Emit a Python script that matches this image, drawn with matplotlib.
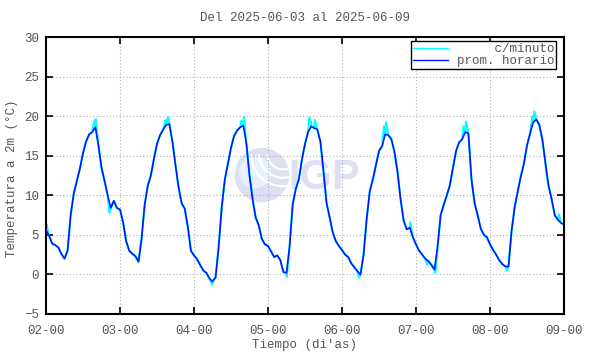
import matplotlib
matplotlib.use("Agg")
import matplotlib.pyplot as plt
from matplotlib.patches import Circle, Arc
import numpy as np

plt.rcParams['font.family'] = ['Liberation Mono', 'DejaVu Sans Mono']

# hourly means, hours from 2025-06-02 00:00
hourly = [5.6, 4.9, 3.9, 3.7, 3.4, 2.6, 2.0, 3.0, 7.5, 10.2, 11.8, 13.4,
          15.3, 16.8, 17.7, 18.0, 18.6, 16.3, 13.5, 11.8, 10.0, 8.4, 9.3, 8.4,
          8.2, 6.6, 4.2, 3.0, 2.6, 2.3, 1.6, 4.5, 8.8, 11.2, 12.5, 14.6,
          16.5, 17.6, 18.3, 18.9, 19.0, 16.8, 13.8, 11.0, 9.0, 8.3, 6.0, 3.0,
          2.4, 1.9, 1.2, 0.5, 0.2, -0.5, -0.9, -0.4, 3.5, 8.5, 12.0, 14.0,
          16.0, 17.5, 18.2, 18.6, 18.8, 16.5, 12.5, 9.5, 7.2, 6.2, 4.5, 3.8,
          3.6, 2.9, 2.2, 2.4, 1.8, 0.3, 0.2, 3.5, 8.8, 10.8, 12.0, 14.5,
          16.5, 18.0, 18.7, 18.5, 18.3, 16.8, 13.0, 9.0, 7.2, 5.3, 4.2, 3.6,
          3.1, 2.5, 2.2, 1.4, 0.9, 0.4, 0.0, 2.5, 7.0, 10.5, 12.0, 13.8,
          15.6, 16.2, 17.7, 17.6, 17.1, 15.5, 13.0, 9.5, 6.8, 5.7, 5.9, 4.7,
          3.8, 3.0, 2.5, 2.0, 1.7, 1.2, 0.6, 3.5, 7.5, 8.8, 10.0, 11.3,
          13.5, 15.6, 16.7, 17.1, 18.0, 17.8, 12.0, 9.0, 7.5, 5.8, 5.0, 4.7,
          3.8, 3.1, 2.5, 1.8, 1.3, 1.0, 1.0, 5.5, 8.5, 10.5, 12.4, 14.0,
          16.3, 17.8, 19.2, 19.6, 18.9, 17.0, 14.0, 11.2, 9.5, 7.5, 6.9, 6.5,
          6.3]
hours = list(range(len(hourly)))

# per-minute excursions (hour, value)
spike_t = [0.1, 15.6, 16.1, 20.6, 38.8, 39.6, 43.7, 53.9, 54.4, 63.3, 64.2,
           67.0, 76.4, 78.1, 85.4, 86.0, 87.2, 101.5, 109.6, 110.3, 118.1,
           123.6, 126.3, 135.4, 136.2, 149.6, 157.8, 158.4, 162.4, 166.4]
spike_v = [6.4, 19.3, 19.6, 7.8, 19.5, 19.9, 9.5, -1.3, -0.6, 19.4, 19.9,
           9.8, 1.2, -0.3, 19.8, 19.2, 19.5, -0.4, 18.7, 19.2, 6.6,
           1.2, 0.2, 18.7, 19.3, 0.5, 20.0, 20.6, 12.4, 7.6]

day_ticks = [0, 24, 48, 72, 96, 120, 144, 168]
day_labels = ['02-00', '03-00', '04-00', '05-00', '06-00', '07-00', '08-00', '09-00']

W, H = 590, 354
txt_col = '#555555'
fig = plt.figure(figsize=(W/100, H/100), dpi=100)

# watermark (behind the plot)
wm = '#dfdff2'
axw = fig.add_axes([234/W, 1-203/H, 56/W, 56/H], zorder=0)
axw.set_xlim(-1, 1)
axw.set_ylim(-1, 1)
axw.set_aspect('equal')
axw.axis('off')
axw.add_patch(Circle((0, 0), 0.95, color=wm))
axw.add_patch(Circle((-0.25, 0.1), 0.55, color='#e8f0fa'))
for r in [0.55, 0.85, 1.15]:
    axw.add_patch(Arc((0.75, 0.75), r*2, r*2, theta1=180, theta2=290, color='white', lw=1.6))
fig.text(288/W, 1-178/H, 'IGP', fontsize=30, fontweight='bold', family='Liberation Sans',
         color=wm, ha='left', va='center', zorder=0)

ax = fig.add_axes([46/W, 1-314/H, 518/W, 277/H], zorder=1)
ax.patch.set_alpha(0)

mt = np.array(hours + spike_t, dtype=float)
mv = np.array(hourly + spike_v, dtype=float)
order = np.argsort(mt)
ax.plot(mt[order], mv[order], color='#00ffff', lw=1.5, label='     c/minuto', zorder=2)
ax.plot(hours, hourly, color='#0018ff', lw=1.2, label='prom. horario', zorder=3)

ax.set_xlim(0, 168)
ax.set_ylim(-5, 30)
ax.set_xticks(day_ticks)
ax.set_xticklabels(day_labels)
ax.set_yticks(range(-5, 31, 5))
ax.grid(True, color='#b0b0b0', linestyle=(0, (1, 2)), lw=0.8)
ax.tick_params(direction='in', length=5, width=1.2, top=True, right=True,
               labelsize=9, labelcolor=txt_col)
ax.tick_params(axis='x', pad=8)
ax.tick_params(axis='y', pad=5)
for s in ax.spines.values():
    s.set_linewidth(1.5)

fig.text(305/W, 1-18/H, 'Del 2025-06-03 al 2025-06-09', fontsize=9, color=txt_col,
         ha='center', va='center')
fig.text(305/W, 1-345/H, "Tiempo (di'as)", fontsize=9, color=txt_col,
         ha='center', va='center')
fig.text(12/W, 1-178/H, 'Temperatura a 2m (°C)', fontsize=9, color=txt_col,
         ha='center', va='center', rotation=90)

leg = ax.legend(loc='upper right', bbox_to_anchor=(556/W, 1-41/H),
                bbox_transform=fig.transFigure, fontsize=9, frameon=True, fancybox=False,
                edgecolor='black', borderpad=0.15, handlelength=2.8, handletextpad=0.7,
                labelspacing=0.0, borderaxespad=0.0, framealpha=1)
leg.get_frame().set_linewidth(1.0)
for t in leg.get_texts():
    t.set_color(txt_col)
for l in leg.get_lines():
    l.set_linewidth(1.0)

fig.savefig('out.png', dpi=100)
